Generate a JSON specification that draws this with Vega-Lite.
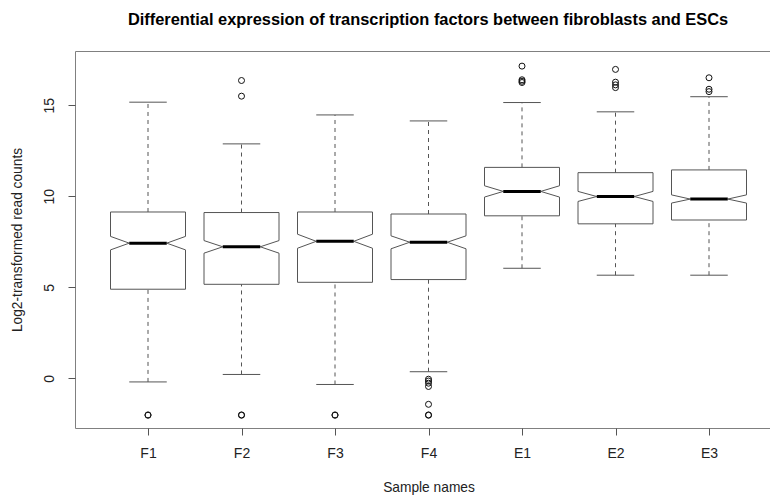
{
  "$schema": "https://vega.github.io/schema/vega-lite/v6.json",
  "width": 696,
  "height": 377,
  "autosize": {"type": "none"},
  "padding": {"left": 75, "top": 51, "right": 0, "bottom": 67},
  "background": "white",
  "config": {
    "font": "Liberation Sans",
    "view": {"stroke": "#808080", "strokeWidth": 1},
    "axis": {
      "grid": false,
      "domain": false,
      "tickColor": "#555",
      "tickSize": 7,
      "labelColor": "#222",
      "labelFontSize": 14,
      "titleColor": "#222",
      "titleFontSize": 13.75,
      "titleFontWeight": "normal"
    },
    "axisX": {"labelAngle": 0, "labelPadding": 11, "titlePadding": 20},
    "axisY": {"labelAngle": -90, "labelPadding": 12, "titlePadding": 18, "tickCount": 4},
    "rule": {"stroke": "#555", "strokeWidth": 1}
  },
  "title": {
    "text": "Differential expression of transcription factors between fibroblasts and ESCs",
    "fontSize": 16.4,
    "fontWeight": "bold",
    "color": "#000",
    "offset": 23,
    "dx": 5
  },
  "datasets": {
    "stats": [
      {"sample": "F1", "wlo": -0.19, "q1": 4.90, "nlo": 7.06, "med": 7.43, "nhi": 7.80, "q3": 9.14, "whi": 15.17},
      {"sample": "F2", "wlo": 0.22, "q1": 5.17, "nlo": 6.88, "med": 7.23, "nhi": 7.57, "q3": 9.11, "whi": 12.88},
      {"sample": "F3", "wlo": -0.33, "q1": 5.28, "nlo": 7.15, "med": 7.53, "nhi": 7.92, "q3": 9.14, "whi": 14.47},
      {"sample": "F4", "wlo": 0.37, "q1": 5.43, "nlo": 7.12, "med": 7.48, "nhi": 7.83, "q3": 9.03, "whi": 14.14},
      {"sample": "E1", "wlo": 6.05, "q1": 8.93, "nlo": 9.96, "med": 10.27, "nhi": 10.58, "q3": 11.59, "whi": 15.15},
      {"sample": "E2", "wlo": 5.67, "q1": 8.49, "nlo": 9.72, "med": 9.99, "nhi": 10.27, "q3": 11.30, "whi": 14.64},
      {"sample": "E3", "wlo": 5.67, "q1": 8.70, "nlo": 9.63, "med": 9.85, "nhi": 10.08, "q3": 11.45, "whi": 15.47}
    ],
    "outliers": [
      {"sample": "F1", "value": -2.02},
      {"sample": "F1", "value": -2.0},
      {"sample": "F2", "value": 16.36},
      {"sample": "F2", "value": 15.5},
      {"sample": "F2", "value": -2.02},
      {"sample": "F2", "value": -2.0},
      {"sample": "F3", "value": -2.02},
      {"sample": "F3", "value": -2.0},
      {"sample": "F4", "value": -0.04},
      {"sample": "F4", "value": -0.14},
      {"sample": "F4", "value": -0.26},
      {"sample": "F4", "value": -0.44},
      {"sample": "F4", "value": -1.42},
      {"sample": "F4", "value": -2.02},
      {"sample": "F4", "value": -2.0},
      {"sample": "E1", "value": 17.15},
      {"sample": "E1", "value": 16.4},
      {"sample": "E1", "value": 16.32},
      {"sample": "E1", "value": 16.25},
      {"sample": "E2", "value": 16.97},
      {"sample": "E2", "value": 16.27},
      {"sample": "E2", "value": 16.12},
      {"sample": "E2", "value": 15.97},
      {"sample": "E3", "value": 16.51},
      {"sample": "E3", "value": 15.88},
      {"sample": "E3", "value": 15.75}
    ]
  },
  "encoding": {
    "x": {
      "field": "sample",
      "type": "nominal",
      "sort": ["F1", "F2", "F3", "F4", "E1", "E2", "E3"],
      "scale": {"type": "point", "domain": ["F1", "F2", "F3", "F4", "E1", "E2", "E3"], "range": [73, 634], "padding": 0},
      "title": "Sample names"
    }
  },
  "layer": [
    {
      "data": {"name": "stats"},
      "mark": {"type": "rule", "strokeDash": [4, 4]},
      "encoding": {
        "y": {"field": "q3", "type": "quantitative", "title": "Log2-transformed read counts", "scale": {"domain": [-2.72, 17.98], "nice": false, "zero": false}},
        "y2": {"field": "whi"}
      }
    },
    {
      "data": {"name": "stats"},
      "mark": {"type": "rule", "strokeDash": [4, 4]},
      "encoding": {
        "y": {"field": "wlo", "type": "quantitative", "title": "Log2-transformed read counts", "scale": {"domain": [-2.72, 17.98], "nice": false, "zero": false}},
        "y2": {"field": "q1"}
      }
    },
    {
      "data": {"name": "stats"},
      "mark": {"type": "rule", "xOffset": -18.75, "x2Offset": 18.75},
      "encoding": {
        "x2": {"field": "sample"},
        "y": {"field": "whi", "type": "quantitative", "title": "Log2-transformed read counts", "scale": {"domain": [-2.72, 17.98], "nice": false, "zero": false}}
      }
    },
    {
      "data": {"name": "stats"},
      "mark": {"type": "rule", "xOffset": -18.75, "x2Offset": 18.75},
      "encoding": {
        "x2": {"field": "sample"},
        "y": {"field": "wlo", "type": "quantitative", "title": "Log2-transformed read counts", "scale": {"domain": [-2.72, 17.98], "nice": false, "zero": false}}
      }
    },
    {
      "data": {"name": "stats"},
      "mark": {"type": "rule", "xOffset": -37.5, "x2Offset": 37.5},
      "encoding": {
        "x2": {"field": "sample"},
        "y": {"field": "q3", "type": "quantitative", "title": "Log2-transformed read counts", "scale": {"domain": [-2.72, 17.98], "nice": false, "zero": false}}
      }
    },
    {
      "data": {"name": "stats"},
      "mark": {"type": "rule", "xOffset": -37.5, "x2Offset": 37.5},
      "encoding": {
        "x2": {"field": "sample"},
        "y": {"field": "q1", "type": "quantitative", "title": "Log2-transformed read counts", "scale": {"domain": [-2.72, 17.98], "nice": false, "zero": false}}
      }
    },
    {
      "data": {"name": "stats"},
      "mark": {"type": "rule", "xOffset": -37.5},
      "encoding": {
        "y": {"field": "nhi", "type": "quantitative", "title": "Log2-transformed read counts", "scale": {"domain": [-2.72, 17.98], "nice": false, "zero": false}},
        "y2": {"field": "q3"}
      }
    },
    {
      "data": {"name": "stats"},
      "mark": {"type": "rule", "xOffset": 37.5},
      "encoding": {
        "y": {"field": "nhi", "type": "quantitative", "title": "Log2-transformed read counts", "scale": {"domain": [-2.72, 17.98], "nice": false, "zero": false}},
        "y2": {"field": "q3"}
      }
    },
    {
      "data": {"name": "stats"},
      "mark": {"type": "rule", "xOffset": -37.5},
      "encoding": {
        "y": {"field": "q1", "type": "quantitative", "title": "Log2-transformed read counts", "scale": {"domain": [-2.72, 17.98], "nice": false, "zero": false}},
        "y2": {"field": "nlo"}
      }
    },
    {
      "data": {"name": "stats"},
      "mark": {"type": "rule", "xOffset": 37.5},
      "encoding": {
        "y": {"field": "q1", "type": "quantitative", "title": "Log2-transformed read counts", "scale": {"domain": [-2.72, 17.98], "nice": false, "zero": false}},
        "y2": {"field": "nlo"}
      }
    },
    {
      "data": {"name": "stats"},
      "mark": {"type": "rule", "xOffset": -37.5, "x2Offset": -18.75},
      "encoding": {
        "x2": {"field": "sample"},
        "y": {"field": "nhi", "type": "quantitative", "title": "Log2-transformed read counts", "scale": {"domain": [-2.72, 17.98], "nice": false, "zero": false}},
        "y2": {"field": "med"}
      }
    },
    {
      "data": {"name": "stats"},
      "mark": {"type": "rule", "xOffset": -37.5, "x2Offset": -18.75},
      "encoding": {
        "x2": {"field": "sample"},
        "y": {"field": "nlo", "type": "quantitative", "title": "Log2-transformed read counts", "scale": {"domain": [-2.72, 17.98], "nice": false, "zero": false}},
        "y2": {"field": "med"}
      }
    },
    {
      "data": {"name": "stats"},
      "mark": {"type": "rule", "xOffset": 37.5, "x2Offset": 18.75},
      "encoding": {
        "x2": {"field": "sample"},
        "y": {"field": "nhi", "type": "quantitative", "title": "Log2-transformed read counts", "scale": {"domain": [-2.72, 17.98], "nice": false, "zero": false}},
        "y2": {"field": "med"}
      }
    },
    {
      "data": {"name": "stats"},
      "mark": {"type": "rule", "xOffset": 37.5, "x2Offset": 18.75},
      "encoding": {
        "x2": {"field": "sample"},
        "y": {"field": "nlo", "type": "quantitative", "title": "Log2-transformed read counts", "scale": {"domain": [-2.72, 17.98], "nice": false, "zero": false}},
        "y2": {"field": "med"}
      }
    },
    {
      "data": {"name": "stats"},
      "mark": {"type": "rule", "xOffset": -18.75, "x2Offset": 18.75, "stroke": "#000", "strokeWidth": 3},
      "encoding": {
        "x2": {"field": "sample"},
        "y": {"field": "med", "type": "quantitative", "title": "Log2-transformed read counts", "scale": {"domain": [-2.72, 17.98], "nice": false, "zero": false}}
      }
    },
    {
      "data": {"name": "outliers"},
      "mark": {"type": "point", "shape": "circle", "filled": false, "stroke": "#111", "strokeWidth": 1, "size": 36, "opacity": 1},
      "encoding": {
        "y": {"field": "value", "type": "quantitative", "title": "Log2-transformed read counts", "scale": {"domain": [-2.72, 17.98], "nice": false, "zero": false}}
      }
    }
  ]
}
